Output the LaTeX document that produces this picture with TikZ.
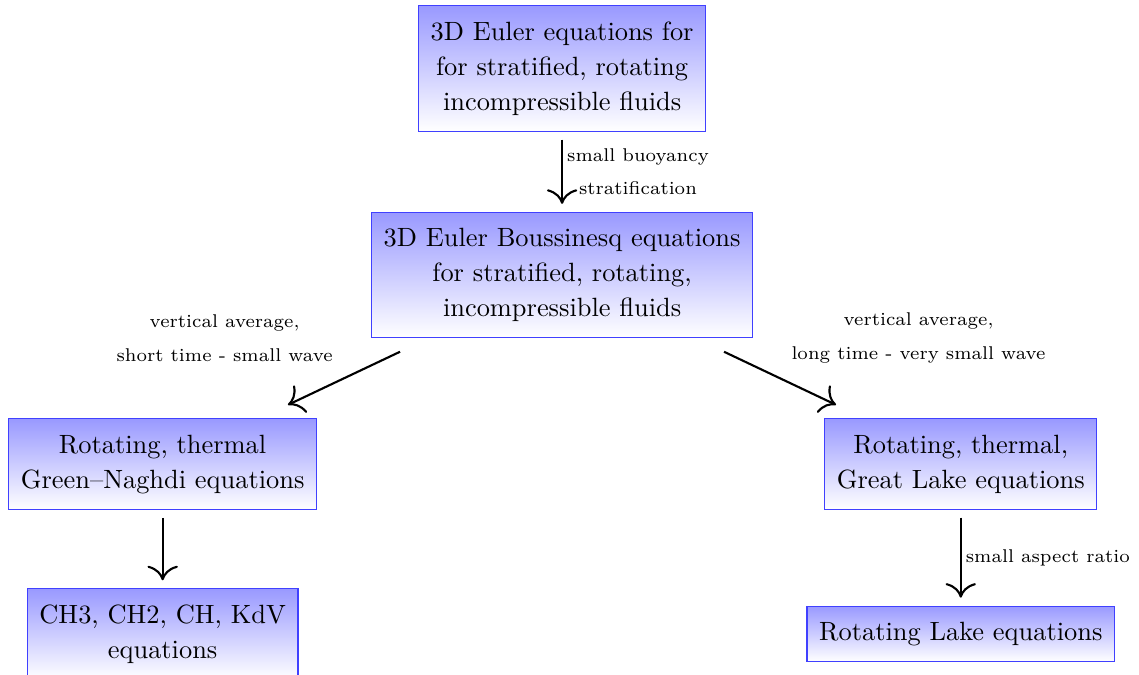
\documentclass[tikz,border=0pt]{standalone}
\usepackage{amsmath,amssymb}
\usepackage{xcolor}
\usepackage{tikz}
\usetikzlibrary{positioning,arrows.meta}

\begin{document}
\begin{tikzpicture}[
    node distance=30pt,
    box/.style={
        rectangle, draw=blue!75, thin,
        top color=blue!40, bottom color=white,
        font=\fontsize{10}{13.3}\selectfont,
        inner xsep=4.6pt, inner ysep=6pt,
        align=center
    },
    lbl/.style={font=\fontsize{7}{12.8}\selectfont, align=center},
    arrow/.style={-{To[length=5.5pt,width=11.5pt]}, thick, shorten >=3pt, shorten <=3pt}
]
\useasboundingbox (0,0) rectangle (431.4pt,-255.3pt);

\node[box] (euler) at (212.9pt,-25.9pt) {3D Euler equations for\\for stratified, rotating\\incompressible fluids};
\node[box, below=30.3pt of euler] (bous) {3D Euler Boussinesq equations\\for stratified, rotating,\\incompressible fluids};
\node[box, below=30.4pt of bous, xshift=-151.3pt] (gn) {Rotating, thermal\\Green--Naghdi equations};
\node[box, below=30.4pt of bous, xshift=151pt] (glake) {Rotating, thermal,\\Great Lake equations};
\node[box, below=29.6pt of gn] (ch) {CH3, CH2, CH, KdV\\equations};
\node[box, below=36.3pt of glake] (lake) {Rotating Lake equations};

\node[lbl, left=11pt of bous.south west] (avgshort) {vertical average,\\short time - small wave};
\node[lbl, right=11pt of bous.south east] (avglong) {vertical average,\\long time - very small wave};

\draw[arrow] (euler) -- node[lbl, right, inner xsep=1.5pt] (buoy) {small buoyancy\\stratification} (bous);
\draw[arrow, shorten >=12pt, shorten <=12pt] (bous) -- (gn);
\draw[arrow, shorten >=12pt, shorten <=12pt] (bous) -- (glake);
\draw[arrow] (gn) -- (ch);
\draw[arrow] (glake) -- node[lbl, right, inner xsep=1.5pt] (aspect) {small aspect ratio} (lake);

\end{tikzpicture}
\end{document}
